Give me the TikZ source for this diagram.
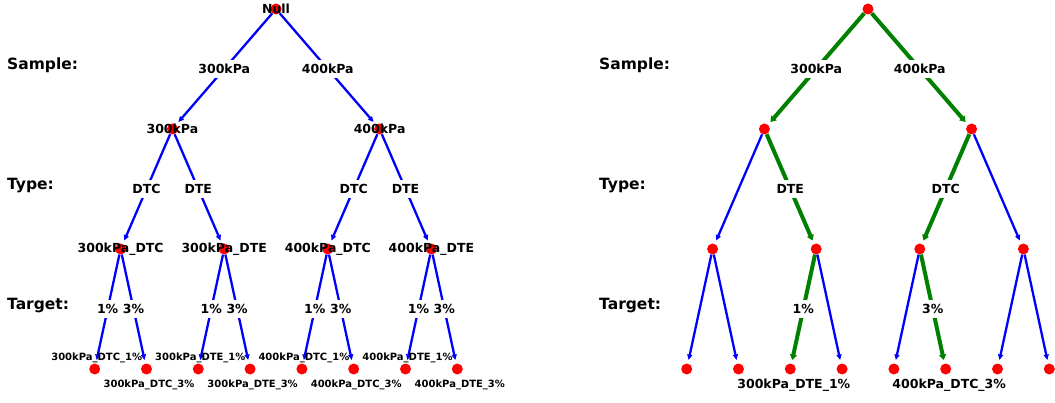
\documentclass[tikz,border=0pt]{standalone}
\usepackage{fontspec}
\setmainfont{DejaVu Sans}
\usetikzlibrary{arrows.meta}
\definecolor{mgreen}{RGB}{0,128,0}
\begin{document}
\begin{tikzpicture}[x=1pt,y=-1pt,
 dot/.style={circle,fill=red,inner sep=0pt,minimum size=11pt},
 nlab/.style={font=\bfseries\fontsize{12.5}{14}\selectfont,inner sep=0pt},
 llab/.style={font=\bfseries\fontsize{10}{12}\selectfont,inner sep=0pt},
 elab/.style={font=\bfseries\fontsize{12.5}{14}\selectfont,fill=white,inner xsep=3pt,inner ysep=4pt},
 ttl/.style={font=\bfseries\fontsize{15.5}{18}\selectfont,anchor=base west,inner sep=0pt},
 barr/.style={draw=blue,line width=2.3pt,-{Triangle[length=5.5pt,width=5pt]},shorten >=3.5pt},
 garr/.style={draw=mgreen,line width=4pt,-{Triangle[length=5.5pt,width=7pt]},shorten >=3.5pt},
]
\useasboundingbox (0,0) rectangle (1055,403);

% titles
\node[ttl] (tsl) at (7,69.5) {Sample:};
\node[ttl] (ttl) at (7,189.5) {Type:};
\node[ttl] (tgl) at (7,309.5) {Target:};
\node[ttl] (tsr) at (599,69.5) {Sample:};
\node[ttl] (ttr) at (599,189.5) {Type:};
\node[ttl] (tgr) at (599,309.5) {Target:};

% ---------- left tree nodes ----------
\node[dot] (Lr) at (276,9) {};
\node[dot] (La) at (172.4,129) {};
\node[dot] (Lb) at (379.6,129) {};
\node[dot] (Laa) at (120.6,249) {};
\node[dot] (Lab) at (224.2,249) {};
\node[dot] (Lba) at (327.8,249) {};
\node[dot] (Lbb) at (431.4,249) {};
\foreach \i in {0,...,7} \node[dot] (Ll\i) at ({94.7+51.8*\i},369) {};

% ---------- right tree nodes ----------
\node[dot] (Rr) at (868,9) {};
\node[dot] (Ra) at (764.4,129) {};
\node[dot] (Rb) at (971.6,129) {};
\node[dot] (Raa) at (712.6,249) {};
\node[dot] (Rab) at (816.2,249) {};
\node[dot] (Rba) at (919.8,249) {};
\node[dot] (Rbb) at (1023.4,249) {};
\foreach \i in {0,...,7} \node[dot] (Rl\i) at ({686.7+51.8*\i},369) {};

% ---------- left tree edges ----------
\draw[barr] (Lr) -- node[elab] (e1) {300kPa} (La);
\draw[barr] (Lr) -- node[elab] (e2) {400kPa} (Lb);
\draw[barr] (La) -- node[elab] (e3) {DTC} (Laa);
\draw[barr] (La) -- node[elab] (e4) {DTE} (Lab);
\draw[barr] (Lb) -- node[elab] (e5) {DTC} (Lba);
\draw[barr] (Lb) -- node[elab] (e6) {DTE} (Lbb);
\draw[barr] (Laa) -- node[elab] (e7) {1\%} (Ll0);
\draw[barr] (Laa) -- node[elab] (e8) {3\%} (Ll1);
\draw[barr] (Lab) -- node[elab] (e9) {1\%} (Ll2);
\draw[barr] (Lab) -- node[elab] (e10) {3\%} (Ll3);
\draw[barr] (Lba) -- node[elab] (e11) {1\%} (Ll4);
\draw[barr] (Lba) -- node[elab] (e12) {3\%} (Ll5);
\draw[barr] (Lbb) -- node[elab] (e13) {1\%} (Ll6);
\draw[barr] (Lbb) -- node[elab] (e14) {3\%} (Ll7);

% ---------- right tree edges ----------
\draw[garr] (Rr) -- node[elab] (f1) {300kPa} (Ra);
\draw[garr] (Rr) -- node[elab] (f2) {400kPa} (Rb);
\draw[barr] (Ra) -- (Raa);
\draw[garr] (Ra) -- node[elab] (f3) {DTE} (Rab);
\draw[garr] (Rb) -- node[elab] (f4) {DTC} (Rba);
\draw[barr] (Rb) -- (Rbb);
\draw[barr] (Raa) -- (Rl0);
\draw[barr] (Raa) -- (Rl1);
\draw[garr] (Rab) -- node[elab] (f5) {1\%} (Rl2);
\draw[barr] (Rab) -- (Rl3);
\draw[barr] (Rba) -- (Rl4);
\draw[garr] (Rba) -- node[elab] (f6) {3\%} (Rl5);
\draw[barr] (Rbb) -- (Rl6);
\draw[barr] (Rbb) -- (Rl7);

% ---------- left node labels ----------
\node[nlab] (nLr) at (Lr) {Null};
\node[nlab] (nLa) at (La) {300kPa};
\node[nlab] (nLb) at (Lb) {400kPa};
\node[nlab] (nLaa) at (Laa) {300kPa\_DTC};
\node[nlab] (nLab) at (Lab) {300kPa\_DTE};
\node[nlab] (nLba) at (Lba) {400kPa\_DTC};
\node[nlab] (nLbb) at (Lbb) {400kPa\_DTE};
\node[llab] (nLl0) at ([xshift=2pt,yshift=11pt]Ll0) {300kPa\_DTC\_1\%};
\node[llab] (nLl1) at ([xshift=2.5pt,yshift=-15.8pt]Ll1) {300kPa\_DTC\_3\%};
\node[llab] (nLl2) at ([xshift=2pt,yshift=11pt]Ll2) {300kPa\_DTE\_1\%};
\node[llab] (nLl3) at ([xshift=2.5pt,yshift=-15.8pt]Ll3) {300kPa\_DTE\_3\%};
\node[llab] (nLl4) at ([xshift=2pt,yshift=11pt]Ll4) {400kPa\_DTC\_1\%};
\node[llab] (nLl5) at ([xshift=2.5pt,yshift=-15.8pt]Ll5) {400kPa\_DTC\_3\%};
\node[llab] (nLl6) at ([xshift=2pt,yshift=11pt]Ll6) {400kPa\_DTE\_1\%};
\node[llab] (nLl7) at ([xshift=2.5pt,yshift=-15.8pt]Ll7) {400kPa\_DTE\_3\%};

% ---------- right leaf labels ----------
\node[nlab] (nRl2) at ([xshift=3.5pt,yshift=-16pt]Rl2) {300kPa\_DTE\_1\%};
\node[nlab] (nRl5) at ([xshift=3.5pt,yshift=-16pt]Rl5) {400kPa\_DTC\_3\%};
\end{tikzpicture}
\end{document}
